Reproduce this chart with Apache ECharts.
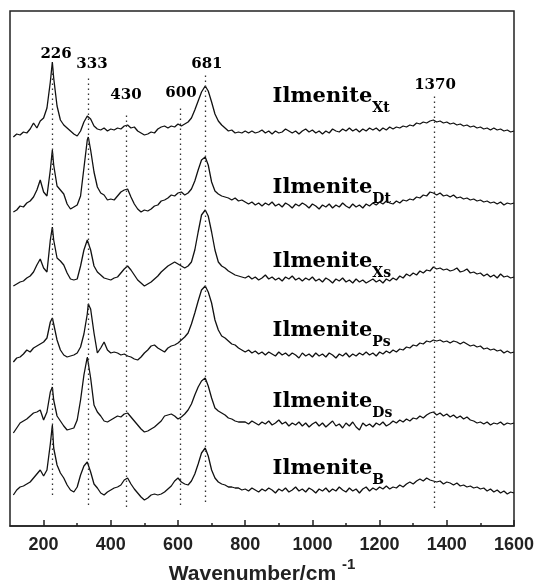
<!DOCTYPE html>
<html><head><meta charset="utf-8">
<script src="https://cdn.jsdelivr.net/npm/echarts@6/dist/echarts.min.js"></script>
<style>html,body{margin:0;padding:0;background:#fff}#c{width:537px;height:581px}</style>
</head><body><div id="c"></div>
<script>
// Wavenumber grid (cm-1)
const wavenumbers = [110,120,130,140,150,160,170,180,190,200,
210,220,226,230,240,250,260,270,280,290,
300,310,320,330,333,340,350,360,370,380,
390,400,410,420,430,440,450,460,470,480,
490,500,510,520,530,540,550,560,570,580,
590,600,610,620,630,640,650,660,670,681,
690,700,710,720,730,740,750,760,770,780,
790,800,810,820,830,840,850,860,870,880,
890,900,910,920,930,940,950,960,970,980,
990,1000,1010,1020,1030,1040,1050,1060,1070,1080,
1090,1100,1110,1120,1130,1140,1150,1160,1170,1180,
1190,1200,1210,1220,1230,1240,1250,1260,1270,1280,
1290,1300,1310,1320,1330,1340,1350,1360,1370,1380,
1390,1400,1410,1420,1430,1440,1450,1460,1470,1480,
1490,1500,1510,1520,1530,1540,1550,1560,1570,1580,
1590,1600];

// Intensities (arbitrary units, traces already offset for stacking)
const ilmeniteXt = [389,392,391,394,393,397,403,398,405,408,
418,444,464,448,420,406,401,398,395,392,
390,395,404,410,411,407,400,397,396,398,
395,397,396,398,397,400,401,398,399,395,
393,391,392,394,393,397,399,400,398,400,
399,402,400,402,404,408,416,425,434,440,
435,424,412,405,401,398,395,396,393,394,
393,395,393,395,393,394,396,393,395,392,
395,393,394,397,395,393,395,392,395,397,
394,396,393,395,392,395,393,397,395,394,
397,395,398,395,397,394,397,395,398,396,
398,395,398,396,399,397,399,398,400,399,
401,400,403,402,404,403,405,406,404,405,
403,404,402,403,401,402,400,401,399,400,
398,399,397,398,396,398,396,397,395,396,
394,395];
const ilmeniteDt = [314,316,320,319,323,325,329,336,346,334,
330,356,376,361,340,336,332,322,317,319,
321,330,358,386,389,376,354,339,333,331,
326,327,326,330,334,336,337,329,322,317,
314,316,315,317,320,321,325,326,328,331,
330,333,334,331,333,337,345,356,366,369,
361,344,335,332,330,329,328,326,328,325,
326,324,322,324,321,323,320,323,321,324,
320,322,319,323,321,318,322,320,323,321,
318,322,320,317,321,319,322,318,321,319,
323,320,318,322,319,321,318,322,320,323,
321,324,322,325,323,322,325,323,326,325,
327,326,329,328,331,330,334,333,331,333,
330,331,329,331,328,329,327,328,326,327,
325,326,324,325,323,324,322,324,321,323,
322,323];
const ilmeniteXs = [240,242,244,245,248,250,254,261,267,258,
254,286,299,286,268,265,261,253,247,246,
247,260,276,286,288,276,260,254,251,248,
247,246,248,249,253,257,260,256,251,246,
243,240,242,244,247,250,254,257,260,262,
264,262,260,258,260,264,276,294,311,316,
310,294,276,264,260,258,255,253,251,250,
249,248,250,247,249,246,248,251,247,249,
246,248,245,249,247,250,246,248,245,248,
246,249,245,247,244,248,246,243,247,245,
248,244,246,243,247,244,246,243,245,247,
244,246,243,247,245,248,246,250,248,252,
250,253,251,255,253,256,255,259,257,258,
256,257,255,256,258,254,255,257,253,254,
252,253,250,252,249,251,248,252,249,250,
248,249];
const ilmenitePs = [164,168,169,172,176,174,178,180,182,184,
188,204,208,202,186,176,171,169,170,171,
173,179,192,212,222,217,193,173,178,184,
176,173,174,173,171,172,170,169,167,166,
169,173,176,180,181,178,176,174,178,180,
181,183,186,189,193,202,213,225,236,240,
234,223,206,196,190,188,185,182,181,178,
176,174,176,173,175,172,174,171,174,172,
170,174,171,173,170,173,171,168,173,170,
172,169,173,170,172,169,173,171,168,172,
170,173,169,172,170,173,171,174,171,173,
170,174,172,175,173,176,174,177,176,179,
178,181,180,183,182,185,184,186,185,186,
184,185,183,185,184,182,184,182,180,181,
179,180,177,178,176,177,175,176,173,175,
173,174];
const ilmeniteDs = [93,98,103,105,107,110,113,114,116,106,
114,134,139,126,110,105,100,96,97,98,
106,126,151,169,169,148,121,114,110,105,
104,106,108,110,109,112,113,109,105,101,
97,94,95,97,99,102,105,110,111,112,
110,107,109,112,116,122,131,139,145,148,
140,128,118,115,113,111,108,107,105,104,
104,104,102,105,103,101,104,102,105,101,
103,106,102,104,100,103,101,104,100,103,
99,102,104,100,103,99,102,105,100,102,
98,103,100,104,99,96,103,100,102,99,
103,101,104,100,102,105,103,106,104,107,
105,108,107,110,108,111,113,114,111,113,
110,112,109,111,108,110,107,109,106,105,
103,104,102,104,101,103,102,104,101,103,
102,103];
const ilmeniteB = [31,36,39,40,42,44,48,52,56,50,
56,82,101,78,61,53,48,41,36,34,
39,51,60,64,64,54,42,38,33,31,
34,36,38,39,41,46,48,42,37,33,
29,26,28,31,32,31,32,34,37,40,
45,48,44,42,41,45,52,62,73,78,
70,56,48,44,42,41,39,39,38,38,
36,37,35,38,36,34,37,35,38,36,
33,37,35,38,34,36,39,35,37,34,
38,36,33,37,35,38,34,37,35,39,
36,34,38,35,37,33,37,39,35,38,
36,39,37,40,37,39,38,41,39,42,
44,42,45,47,45,48,46,45,44,45,
42,44,43,41,43,40,41,39,40,38,
39,37,38,35,37,34,36,33,35,32,
34,33];

const sampleNames = ['Xt','Dt','Xs','Ps','Ds','B'];
const peakPositions = [226,333,445,607,681,1363];
const peakLabels = ['226','333','430','600','681','1370'];
const tickLabels = [200,400,600,800,1000,1200,1400,1600];
const minorTicks = [300,500,700,900,1100,1300,1500];

// ---- layout / styling ----
const traces = [ilmeniteXt, ilmeniteDt, ilmeniteXs, ilmenitePs, ilmeniteDs, ilmeniteB];
const lineSpan = [[31,461],[21,449],[19,414],[21,418],[24,454],[18,430]];
const peakLabelAt = [[237,472],[344,462],[445,431],[609,433],[686,462],[1365,441]];
const nameLabelAt = [[880,428],[880,337],[880,263],[880,194],[880,123],[880,56]];
const ink = '#111';

const series = traces.map((t) => ({
  type: 'line',
  data: wavenumbers.map((w, j) => [w, t[j]]),
  showSymbol: false, silent: true, animation: false,
  lineStyle: { color: ink, width: 1.3 }
}));

series.push({
  type: 'line', data: [], silent: true, animation: false,
  markLine: {
    symbol: 'none', silent: true, animation: false,
    label: { show: false },
    lineStyle: { type: [1.6, 3.4], color: '#333', width: 1.3 },
    data: peakPositions.map((p, i) => [{ coord: [p, lineSpan[i][0]] }, { coord: [p, lineSpan[i][1]] }])
  }
});

series.push({
  type: 'scatter', silent: true, animation: false, symbolSize: 1,
  itemStyle: { color: 'rgba(0,0,0,0)' },
  data: peakLabelAt,
  label: {
    show: true, position: 'inside',
    formatter: (p) => peakLabels[p.dataIndex],
    fontFamily: 'DejaVu Serif', fontWeight: 'bold', fontSize: 15, color: '#000', opacity: 1
  }
});

series.push({
  type: 'scatter', silent: true, animation: false, symbolSize: 1,
  itemStyle: { color: 'rgba(0,0,0,0)' },
  data: nameLabelAt,
  label: {
    show: true, position: 'right', distance: 0, color: '#000', opacity: 1,
    formatter: (p) => '{a|Ilmenite}{b|' + sampleNames[p.dataIndex] + '}',
    rich: {
      a: { fontFamily: 'DejaVu Serif', fontWeight: 'bold', fontSize: 21, color: '#000', lineHeight: 24, verticalAlign: 'top' },
      b: { fontFamily: 'DejaVu Serif', fontWeight: 'bold', fontSize: 14, color: '#000', lineHeight: 14, verticalAlign: 'top', padding: [15, 0, 0, 0] }
    }
  }
});

const chart = echarts.init(document.getElementById('c'), null, { renderer: 'canvas' });
chart.setOption({
  animation: false,
  backgroundColor: '#fff',
  grid: { left: 10, right: 23, top: 11, bottom: 55, show: true, borderColor: '#222', borderWidth: 1.5,
          containLabel: false, outerBoundsMode: 'none' },
  xAxis: [{
    type: 'value', min: 100, max: 1600, position: 'bottom',
    axisLine: { show: true, onZero: false, lineStyle: { color: '#222', width: 1.5 } },
    axisTick: { show: true, inside: true, length: 6, customValues: tickLabels, lineStyle: { color: '#222', width: 1.5 } },
    axisLabel: { show: true, customValues: tickLabels, formatter: (v) => String(v), fontFamily: 'Liberation Sans', fontWeight: 'bold', fontSize: 18, color: '#222', margin: 10 },
    splitLine: { show: false },
    name: '{a|Wavenumber/cm }{b|-1}',
    nameLocation: 'middle', nameGap: 31, nameMoveOverlap: false,
    nameTextStyle: {
      rich: {
        a: { fontFamily: 'Liberation Sans', fontWeight: 'bold', fontSize: 21, color: '#222', lineHeight: 28, verticalAlign: 'bottom' },
        b: { fontFamily: 'Liberation Sans', fontWeight: 'bold', fontSize: 15, color: '#222', lineHeight: 15, verticalAlign: 'top' }
      }
    }
  }, {
    type: 'value', min: 100, max: 1600, position: 'bottom',
    axisLine: { show: false },
    axisTick: { show: true, inside: true, length: 3, customValues: minorTicks, lineStyle: { color: '#222', width: 1.5 } },
    axisLabel: { show: false },
    splitLine: { show: false }
  }],
  yAxis: { type: 'value', min: 0, max: 515, show: false },
  series: series
});
</script>
</body></html>
